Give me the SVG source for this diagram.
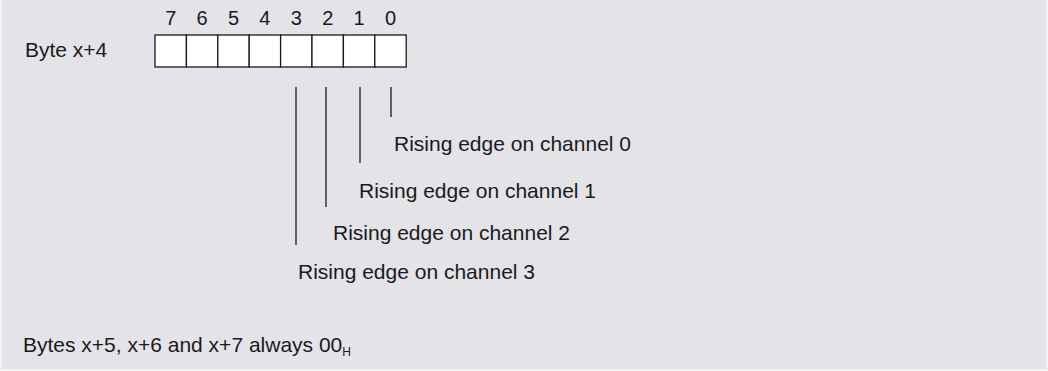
<svg xmlns="http://www.w3.org/2000/svg" width="1048" height="371" viewBox="0 0 1048 371">
<style>
text{font-family:"Liberation Sans",Arial,sans-serif;fill:#1a1a1a;font-size:21px}
.d{font-size:20px;text-anchor:middle}
.cell{fill:#ffffff;stroke:#1a1a1a;stroke-width:1.3}
.ln{stroke:#1a1a1a;stroke-width:1.3;fill:none}
</style>
<rect x="0" y="0" width="1048" height="371" fill="#f2f2f5"/>
<rect x="2" y="0" width="1044" height="369" fill="#e3e3e8"/>
<g id="byte">
<text x="25" y="57">Byte x+4</text>
<rect class="cell" x="155" y="35" width="31.4" height="32"/>
<rect class="cell" x="186.4" y="35" width="31.4" height="32"/>
<rect class="cell" x="217.8" y="35" width="31.4" height="32"/>
<rect class="cell" x="249.2" y="35" width="31.4" height="32"/>
<rect class="cell" x="280.6" y="35" width="31.4" height="32"/>
<rect class="cell" x="312" y="35" width="31.4" height="32"/>
<rect class="cell" x="343.4" y="35" width="31.4" height="32"/>
<rect class="cell" x="374.8" y="35" width="31.4" height="32"/>
<text class="d" x="170.7" y="25">7</text>
<text class="d" x="202.1" y="25">6</text>
<text class="d" x="233.5" y="25">5</text>
<text class="d" x="264.9" y="25">4</text>
<text class="d" x="296.3" y="25">3</text>
<text class="d" x="327.7" y="25">2</text>
<text class="d" x="359.1" y="25">1</text>
<text class="d" x="390.5" y="25">0</text>
</g>
<g id="connectors">
<line class="ln" x1="391" y1="87" x2="391" y2="117"/>
<line class="ln" x1="360" y1="87" x2="360" y2="163"/>
<line class="ln" x1="326" y1="87" x2="326" y2="207"/>
<line class="ln" x1="296" y1="87" x2="296" y2="245"/>
</g>
<g id="ch0"><text x="394" y="151">Rising edge on channel 0</text></g>
<g id="ch1"><text x="359" y="198">Rising edge on channel 1</text></g>
<g id="ch2"><text x="333" y="240">Rising edge on channel 2</text></g>
<g id="ch3"><text x="298" y="279">Rising edge on channel 3</text></g>
<g id="note"><text x="23" y="352">Bytes x+5, x+6 and x+7 always 00<tspan font-size="12" dy="4">H</tspan></text></g>
</svg>
